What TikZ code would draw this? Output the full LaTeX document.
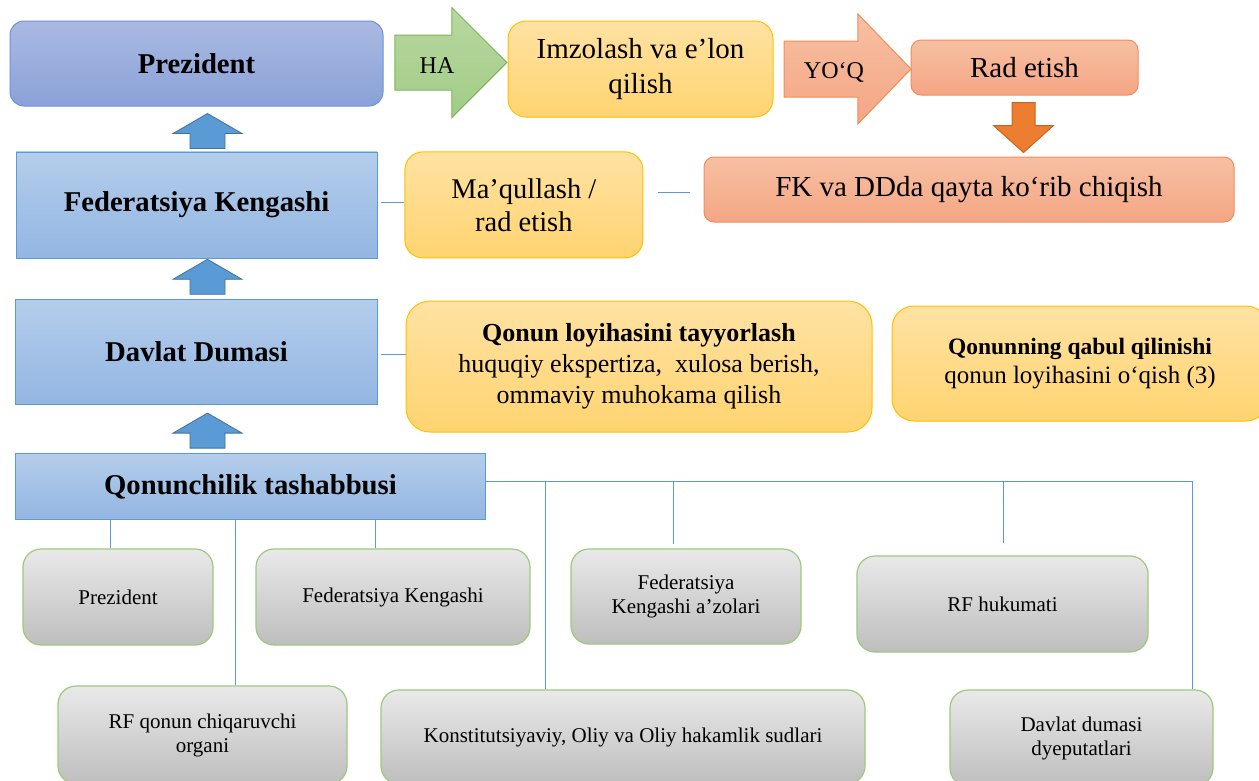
\documentclass[tikz,border=0pt]{standalone}
\usepackage{fontspec}
\setmainfont{Liberation Serif}
\usetikzlibrary{shapes.arrows, positioning}

\definecolor{presTop}{HTML}{AAB9E2}
\definecolor{presBot}{HTML}{8AA2D8}
\definecolor{presLine}{HTML}{6F92D6}
\definecolor{blueTop}{HTML}{B4CDEB}
\definecolor{blueBot}{HTML}{93B6E2}
\definecolor{blueLine}{HTML}{5B9BD5}
\definecolor{arrowBlue}{HTML}{5B9BD5}
\definecolor{arrowBlueLine}{HTML}{41719C}
\definecolor{yelTop}{HTML}{FFE2A3}
\definecolor{yelBot}{HTML}{FFD470}
\definecolor{yelLine}{HTML}{FFC000}
\definecolor{salTop}{HTML}{F7C0A3}
\definecolor{salBot}{HTML}{F4A683}
\definecolor{salLine}{HTML}{F08D5C}
\definecolor{greenTop}{HTML}{B7D8A0}
\definecolor{greenBot}{HTML}{A2CC87}
\definecolor{greenLine}{HTML}{7DB65A}
\definecolor{orangeFill}{HTML}{ED7D31}
\definecolor{orangeLine}{HTML}{C4661F}
\definecolor{grayTop}{HTML}{E9E9E9}
\definecolor{grayMid}{HTML}{E0E0E0}
\definecolor{grayBot}{HTML}{BEBEBE}
\definecolor{grayLine}{HTML}{9BCB7A}

\begin{document}
\begin{tikzpicture}[
    x=1pt, y=-1pt,
    presbox/.style={draw=presLine, line width=1pt, rounded corners=14pt, top color=presTop, bottom color=presBot, inner sep=0pt, font=\fontsize{28.7}{34}\selectfont\bfseries},
    bluebox/.style={draw=blueLine, line width=0.8pt, top color=blueTop, bottom color=blueBot, inner sep=0pt, font=\fontsize{28.7}{34}\selectfont\bfseries},
    yellowbox/.style={draw=yelLine, line width=1pt, rounded corners=18pt, top color=yelTop, bottom color=yelBot, inner sep=0pt, align=center},
    salmonbox/.style={draw=salLine, line width=1pt, rounded corners=10pt, top color=salTop, bottom color=salBot, inner sep=0pt, font=\fontsize{29}{35}\selectfont},
    graybox/.style={draw=grayLine, line width=1.2pt, rounded corners=18pt, top color=grayTop, middle color=grayMid, bottom color=grayBot, inner sep=0pt, align=center, font=\fontsize{21}{24}\selectfont},
    bigarrow/.style={single arrow, line width=1pt, inner xsep=0pt, inner ysep=0pt, font=\fontsize{24}{28}\selectfont},
    uparrow/.style={draw=arrowBlueLine, fill=arrowBlue, line width=0.8pt},
    link/.style={draw=blueLine, line width=0.9pt}
]

\useasboundingbox (0,0) rectangle (1259,780);
\clip (0,0) rectangle (1259,780);
\fill[white] (0,0) rectangle (1259,780);

\node[presbox, minimum width=373pt, minimum height=85pt] (pres) at (196.5,63.5) {Prezident};
\node[bluebox, minimum width=361pt, minimum height=106pt, below=45pt of pres] (fedKen) {Federatsiya Kengashi};
\node[bluebox, minimum width=362pt, minimum height=105pt, below=41pt of fedKen] (davlat) {Davlat Dumasi};
\node[bluebox, minimum width=470pt, minimum height=66pt, below=48pt of davlat.south west, anchor=north west] (qonunchilik) {Qonunchilik tashabbusi};

\node[yellowbox, minimum width=265pt, minimum height=96pt, font=\fontsize{29}{35}\selectfont] (imzo) at (640.5,69) {Imzolash va e’lon\\qilish};
\node[salmonbox, minimum width=227pt, minimum height=55pt] (rad) at (1024.5,67.5) {Rad etish};
\node[salmonbox, minimum width=530pt, minimum height=65pt] (fkdd) at (969,189.5) {FK va DDda qayta ko‘rib chiqish};
\node[yellowbox, minimum width=238pt, minimum height=106pt, font=\fontsize{28.5}{33}\selectfont, right=27pt of fedKen] (maqul) {Ma’qullash /\\rad etish};
\node[yellowbox, minimum width=466pt, minimum height=131pt, rounded corners=24pt, font=\fontsize{26}{31}\selectfont] (qonunLoy) at (639,366.5) {\textbf{Qonun loyihasini tayyorlash}\\huquqiy ekspertiza,\ \ xulosa berish,\\ommaviy muhokama qilish};
\node[yellowbox, minimum width=376pt, minimum height=115pt, rounded corners=22pt, font=\fontsize{25}{29}\selectfont] (qabul) at (1080,363.5) {{\fontsize{23.5}{29}\selectfont\textbf{Qonunning qabul qilinishi}}\\qonun loyihasini o‘qish (3)};

\node[bigarrow, draw=greenLine, top color=greenTop, bottom color=greenBot, text height=38pt, text depth=16pt, minimum height=112pt, minimum width=109pt, single arrow head extend=27.5pt, single arrow tip angle=90, anchor=tip] (haArrow) at ([yshift=6.5pt]imzo.west) {HA};
\node[bigarrow, draw=salLine, top color=salTop, bottom color=salBot, text height=37pt, text depth=18pt, minimum height=127pt, minimum width=109pt, single arrow head extend=27pt, single arrow tip angle=92, anchor=tail] (yoqArrow) at ([xshift=10pt]imzo.east) {YO‘Q};

\coordinate (downTail) at ([xshift=-1pt,yshift=-7pt]rad.south);
\draw[draw=orangeLine, fill=orangeFill, line width=1pt] (downTail) ++(-11.5,0) -- ++(0,23) -- ++(-18.5,0) -- ++(30,27) -- ++(30,-27) -- ++(-18.5,0) -- ++(0,-23) -- cycle;

\coordinate (upOneTail) at ([xshift=11pt,yshift=3pt]fedKen.north);
\coordinate (upTwoTail) at ([xshift=11pt,yshift=5pt]davlat.north);
\coordinate (upThreeTail) at ([xshift=-43pt,yshift=5pt]qonunchilik.north);
\foreach \tail in {upOneTail, upTwoTail, upThreeTail}
    \draw[uparrow] (\tail) ++(-17.5,0) -- ++(0,-15) -- ++(-17,0) -- ++(34.5,-20) -- ++(34.5,20) -- ++(-17,0) -- ++(0,15) -- cycle;

\node[graybox, minimum width=190pt, minimum height=96pt] (bPrez) at (118,597) {Prezident};
\node[graybox, minimum width=274pt, minimum height=96pt] (bFedKen) at (393,597) {Federatsiya Kengashi};
\node[graybox, minimum width=230pt, minimum height=95pt] (bFKaz) at (686,596.5) {Federatsiya\\Kengashi a’zolari};
\node[graybox, minimum width=291pt, minimum height=96pt] (bHuk) at (1002.5,604) {RF hukumati};
\node[graybox, minimum width=289pt, minimum height=98pt] (bRfQonun) at (202.5,735) {RF qonun chiqaruvchi\\organi};
\node[graybox, minimum width=484pt, minimum height=94pt] (bKonst) at (623,737) {Konstitutsiyaviy, Oliy va Oliy hakamlik sudlari};
\node[graybox, minimum width=263pt, minimum height=96pt] (bDum) at (1081.5,738) {Davlat dumasi\\dyeputatlari};

\draw[link, shorten <=4pt] ([yshift=2pt]fedKen.east) -- ([yshift=2pt]maqul.west);
\draw[link, shorten <=15pt, shorten >=14pt] ([yshift=-3pt]maqul.east |- fkdd.west) -- ([yshift=-3pt]fkdd.west);
\draw[link, shorten <=3pt] ([yshift=-2.5pt]davlat.east) -- ([yshift=-2.5pt]davlat.east -| qonunLoy.west);

\coordinate (busEnd) at (1192,481);
\coordinate (tapKonst) at (545,481);
\coordinate (tapAzo) at (673,481);
\coordinate (tapHuk) at (1003,481);
\draw[link] (qonunchilik.east |- busEnd) -- (busEnd) -- (busEnd |- bDum.north);
\draw[link] (tapKonst) -- (tapKonst |- bKonst.north);
\draw[link, shorten >=4pt] (tapAzo) -- (tapAzo |- bFKaz.north);
\draw[link, shorten >=12pt] (tapHuk) -- (tapHuk |- bHuk.north);
\draw[link] ([xshift=-8pt]bPrez.north) -- ([xshift=-8pt]bPrez.north |- qonunchilik.south);
\draw[link] ([xshift=32.5pt]bRfQonun.north) -- ([xshift=32.5pt]bRfQonun.north |- qonunchilik.south);
\draw[link] ([xshift=-18pt]bFedKen.north) -- ([xshift=-18pt]bFedKen.north |- qonunchilik.south);

\end{tikzpicture}
\end{document}
